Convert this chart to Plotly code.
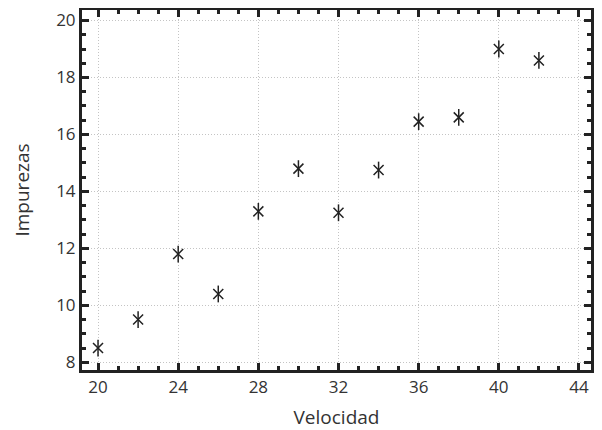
import plotly.graph_objects as go

velocidad = [20, 22, 24, 26, 28, 30, 32, 34, 36, 38, 40, 42]
impurezas = [8.5, 9.5, 11.8, 10.4, 13.3, 14.8, 13.25, 14.75, 16.45, 16.6, 19.0, 18.6]

x_ticks = [20, 24, 28, 32, 36, 40, 44]
y_ticks = [8, 10, 12, 14, 16, 18, 20]

ink = "#222222"
text_col = "#333333"
font_family = "'Open Sans', Lato, sans-serif"

fig = go.Figure()
# six-armed asterisk: X plus vertical line
fig.add_trace(go.Scatter(x=velocidad, y=impurezas, mode="markers",
                         marker=dict(symbol="x-thin-open", size=10, color=ink,
                                     line=dict(color=ink, width=1.5)),
                         hoverinfo="skip", showlegend=False))
fig.add_trace(go.Scatter(x=velocidad, y=impurezas, mode="markers",
                         marker=dict(symbol="line-ns-open", size=12, color=ink,
                                     line=dict(color=ink, width=1.5)),
                         showlegend=False))

axis_common = dict(
    showline=True, linecolor=ink, linewidth=3, mirror="allticks",
    ticks="inside", ticklen=7, tickwidth=3, tickcolor=ink,
    showgrid=True, gridcolor="#c4c4c4", griddash="1px,2px", gridwidth=1,
    zeroline=False, automargin=False,
    tickfont=dict(family=font_family, size=17, color=text_col),
)

fig.update_xaxes(
    **axis_common,
    range=[19.2, 44.6], tickvals=x_ticks, ticktext=[str(v) for v in x_ticks],
    minor=dict(ticks="inside", ticklen=4, tickwidth=2.5, tickcolor=ink, dtick=1, tick0=20, showgrid=False),
    title=dict(text="Velocidad", font=dict(family=font_family, size=19, color=text_col), standoff=14),
)
fig.update_yaxes(
    **axis_common,
    range=[7.73, 20.37], tickvals=y_ticks, ticktext=[str(v) for v in y_ticks],
    minor=dict(ticks="inside", ticklen=4, tickwidth=2.5, tickcolor=ink, dtick=0.5, tick0=8, showgrid=False),
    title=dict(text="Impurezas", font=dict(family=font_family, size=19, color=text_col), standoff=22),
)

fig.update_layout(
    width=602, height=430,
    margin=dict(l=74, r=19, t=2, b=68),
    plot_bgcolor="white", paper_bgcolor="white",
    font=dict(family=font_family),
)

fig.write_html("out.html")
